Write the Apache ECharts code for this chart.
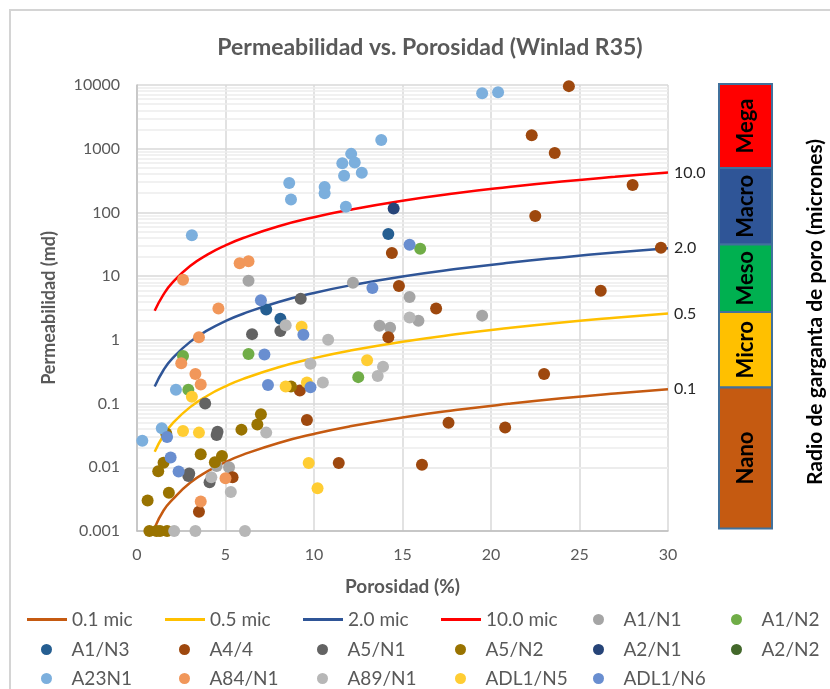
<!DOCTYPE html>
<html>
<head>
<meta charset="utf-8">
<script src="https://cdn.jsdelivr.net/npm/echarts@6/dist/echarts.min.js"></script>
<style>
  html, body { margin: 0; padding: 0; background: #fff; }
  #chart { width: 830px; height: 689px; }
</style>
</head>
<body>
<div id="chart"></div>
<script>
// porosity (%) where the Winland R35 curves were read
const curvePhi = [1, 1.5, 2, 3, 4, 5, 6, 8, 10, 12, 15, 18, 21, 24, 27, 30];
const curve01 = [0.00113, 0.0021, 0.0031, 0.0057, 0.0087, 0.0121, 0.0158, 0.0241, 0.0334, 0.0437, 0.0606, 0.079, 0.099, 0.121, 0.144, 0.168];
const curve05 = [0.0175, 0.0318, 0.0485, 0.088, 0.134, 0.186, 0.244, 0.372, 0.516, 0.675, 0.936, 1.22, 1.53, 1.87, 2.22, 2.59];
const curve20 = [0.185, 0.336, 0.512, 0.929, 1.42, 1.97, 2.57, 3.93, 5.45, 7.12, 9.89, 12.9, 16.2, 19.7, 23.5, 27.4];
const curve100 = [2.86, 5.18, 7.91, 14.4, 21.9, 30.4, 39.7, 60.7, 84.2, 110, 153, 200, 250, 305, 362, 423];

// samples: [porosidad %, permeabilidad md]
const a1n1 = [[6.3, 8.5], [12.2, 7.9], [15.4, 4.7], [15.9, 2.0], [13.7, 1.66], [14.3, 1.55], [19.5, 2.4], [4.5, 0.0105], [5.2, 0.01]];
const a1n2 = [[2.6, 0.56], [2.9, 0.165], [6.3, 0.6], [12.5, 0.26], [16.0, 27]];
const a1n3 = [[7.3, 3.0], [8.1, 2.15], [14.2, 46]];
const a44 = [[24.4, 9600], [22.3, 1620], [23.6, 860], [28.0, 270], [22.5, 88], [29.6, 28], [26.2, 5.9], [14.4, 23], [14.8, 7.0], [16.9, 3.1], [14.2, 1.1], [23.0, 0.29], [17.6, 0.05], [20.8, 0.042], [16.1, 0.011], [9.6, 0.055], [11.4, 0.0117], [9.2, 0.16], [3.5, 0.002], [5.4, 0.007]];
const a5n1 = [[9.25, 4.4], [6.5, 1.23], [8.1, 1.38], [3.85, 0.1], [4.5, 0.032], [4.55, 0.036], [2.9, 0.0073], [2.95, 0.008], [4.1, 0.0058]];
const a5n2 = [[7.0, 0.068], [6.8, 0.047], [5.9, 0.039], [3.6, 0.016], [4.8, 0.015], [4.4, 0.012], [1.5, 0.0118], [1.2, 0.0087], [1.8, 0.004], [0.6, 0.003], [0.7, 0.001], [1.1, 0.001], [1.3, 0.001], [1.7, 0.001], [8.7, 0.185], [1.65, 0.034]];
const a2n1 = [[14.5, 115]];
const a2n2 = [];
const a23n1 = [[0.3, 0.026], [1.4, 0.041], [2.2, 0.165], [3.1, 44], [8.6, 290], [8.7, 160], [10.6, 250], [10.6, 200], [11.6, 590], [12.1, 830], [12.3, 610], [11.7, 375], [12.7, 420], [11.8, 123], [13.8, 1370], [19.5, 7400], [20.4, 7700]];
const a84n1 = [[2.6, 8.8], [5.8, 16], [6.3, 17.2], [4.6, 3.1], [3.5, 1.1], [2.5, 0.43], [3.3, 0.29], [3.6, 0.2], [5.0, 0.0067], [3.6, 0.0029]];
const a89n1 = [[8.4, 1.7], [10.8, 1.0], [9.8, 0.42], [10.5, 0.215], [13.9, 0.38], [13.6, 0.27], [15.4, 2.25], [5.3, 0.0041], [4.2, 0.007], [7.3, 0.035], [2.1, 0.001], [3.3, 0.001], [6.1, 0.001]];
const adl1n5 = [[3.1, 0.128], [2.6, 0.037], [3.5, 0.035], [9.3, 1.6], [8.4, 0.186], [9.6, 0.215], [9.7, 0.0117], [10.2, 0.0047], [13.0, 0.48]];
const adl1n6 = [[7.0, 4.2], [13.3, 6.5], [15.4, 31], [7.2, 0.59], [9.4, 1.2], [9.8, 0.18], [7.4, 0.196], [1.7, 0.03], [1.9, 0.0142], [2.35, 0.0086]];

const yTicks = ['0.001', '0.01', '0.1', '1', '10', '100', '1000', '10000'];
const zoneNames = ['Mega', 'Macro', 'Meso', 'Micro', 'Nano'];
const zoneColors = ['#FF0000', '#2F5597', '#00B050', '#FFC000', '#C55A11'];

const FONT = 'Lato';
const chart = echarts.init(document.getElementById('chart'), null, { renderer: 'canvas' });

function curve(name, vals, color, label) {
	return {
		name: name,
		type: 'line',
		data: curvePhi.map((p, i) => [p, vals[i]]),
		smooth: true,
		symbol: 'none',
		lineStyle: { color: color, width: 2.5 },
		itemStyle: { color: color },
		endLabel: { show: true, formatter: label, color: '#262626', fontSize: 16, fontFamily: FONT, distance: 6 },
		z: 2,
	};
}

function dots(name, pts, color) {
	return {
		name: name,
		type: 'scatter',
		data: pts,
		symbolSize: 12,
		itemStyle: { color: color, opacity: 1 },
		clip: false,
		z: 3,
	};
}

// log minor gridlines (2..9 in every decade)
const minorLines = [];
for (let d = -3; d < 4; d++) {
	for (let m = 2; m < 10; m++) minorLines.push({ yAxis: m * Math.pow(10, d) });
}

const series = [
	curve('0.1 mic', curve01, '#C55A11', '0.1'),
	curve('0.5 mic', curve05, '#FFC000', '0.5'),
	curve('2.0 mic', curve20, '#2F5597', '2.0'),
	curve('10.0 mic', curve100, '#FF0000', '10.0'),
	dots('A1/N1', a1n1, '#A5A5A5'),
	dots('A1/N2', a1n2, '#70AD47'),
	dots('A1/N3', a1n3, '#255E91'),
	dots('A4/4', a44, '#9E480E'),
	dots('A5/N1', a5n1, '#636363'),
	dots('A5/N2', a5n2, '#997300'),
	dots('A2/N1', a2n1, '#264478'),
	dots('A2/N2', a2n2, '#43682B'),
	dots('A23N1', a23n1, '#7CAFDD'),
	dots('A84/N1', a84n1, '#F1975A'),
	dots('A89/N1', a89n1, '#B7B7B7'),
	dots('ADL1/N5', adl1n5, '#FFCD33'),
	dots('ADL1/N6', adl1n6, '#698ED0'),
];
series[0].markLine = {
	silent: true,
	symbol: ['none', 'none'],
	label: { show: false },
	lineStyle: { color: '#EDEDED', type: 'solid', width: 1.5 },
	data: minorLines,
	z: 0,
};

// one legend box per entry, laid out as a 6-column grid like the original
const legendTops = [610, 640, 669];
const legends = series.map((s, i) => {
	const isLine = s.type === 'line';
	return {
		data: [s.name],
		left: 27 + 138 * (i % 6) + (isLine ? 0 : 14),
		top: legendTops[Math.floor(i / 6)],
		padding: 0,
		itemGap: 0,
		itemWidth: 40,
		itemHeight: isLine ? 3 : 11,
		icon: isLine ? 'rect' : 'circle',
		textStyle: { fontFamily: FONT, fontSize: 19, color: '#595959' },
	};
});

// right-hand pore throat bar
const zoneTops = [84, 168, 244.5, 312, 387.5, 528.5];
const graphic = [
	{ type: 'rect', shape: { x: 10, y: 10, width: 840, height: 700 }, style: { fill: 'none', stroke: '#D4D4D4', lineWidth: 2 }, silent: true },
];
zoneNames.forEach((n, i) => {
	const y0 = zoneTops[i];
	const h = zoneTops[i + 1] - y0;
	graphic.push({
		type: 'rect',
		shape: { x: 719, y: y0, width: 53, height: h },
		style: { fill: zoneColors[i], stroke: '#41719C', lineWidth: 2 },
	});
	graphic.push({
		type: 'text',
		x: 745.5,
		y: y0 + h / 2,
		rotation: Math.PI / 2,
		style: { text: n, fill: '#000', font: 'bold 22px ' + FONT, align: 'center', verticalAlign: 'middle' },
	});
});
graphic.push({
	type: 'text',
	x: 815,
	y: 312,
	rotation: Math.PI / 2,
	style: { text: 'Radio de garganta de poro (micrones)', fill: '#000', font: 'bold 21px ' + FONT, align: 'center', verticalAlign: 'middle' },
});

const option = {
	backgroundColor: '#fff',
	animation: false,
	title: {
		text: 'Permeabilidad vs. Porosidad (Winlad R35)',
		left: 425,
		textAlign: 'center',
		top: 31,
		textStyle: { fontFamily: FONT, fontSize: 23, fontWeight: 'bold', color: '#595959' },
	},
	grid: { left: 137, right: 162, top: 85, bottom: 158 },
	legend: legends,
	xAxis: {
		type: 'value',
		min: 0,
		max: 30,
		interval: 5,
		name: 'Porosidad (%)',
		nameLocation: 'middle',
		nameGap: 46,
		nameTextStyle: { fontFamily: FONT, fontSize: 19, fontWeight: 'bold', color: '#595959' },
		axisLine: { show: true, lineStyle: { color: '#BFBFBF', width: 1.5 } },
		axisTick: { show: false },
		axisLabel: { fontFamily: FONT, fontSize: 16, color: '#595959', margin: 16 },
		splitLine: { show: true, lineStyle: { color: '#D9D9D9', width: 1.5 } },
	},
	yAxis: {
		type: 'log',
		logBase: 10,
		min: 0.001,
		max: 10000,
		name: 'Permeabilidad (md)',
		nameLocation: 'middle',
		nameGap: 79,
		nameTextStyle: { fontFamily: FONT, fontSize: 18, fontWeight: 'bold', color: '#595959' },
		axisLine: { show: true, lineStyle: { color: '#BFBFBF', width: 1.5 } },
		axisTick: { show: false },
		axisLabel: {
			fontFamily: FONT,
			fontSize: 16,
			color: '#595959',
			margin: 17,
			formatter: (v, i) => yTicks[i],
		},
		splitLine: { show: true, lineStyle: { color: '#D9D9D9', width: 1.5 } },
	},
	graphic: graphic,
	series: series,
};

chart.setOption(option);
</script>
</body>
</html>
